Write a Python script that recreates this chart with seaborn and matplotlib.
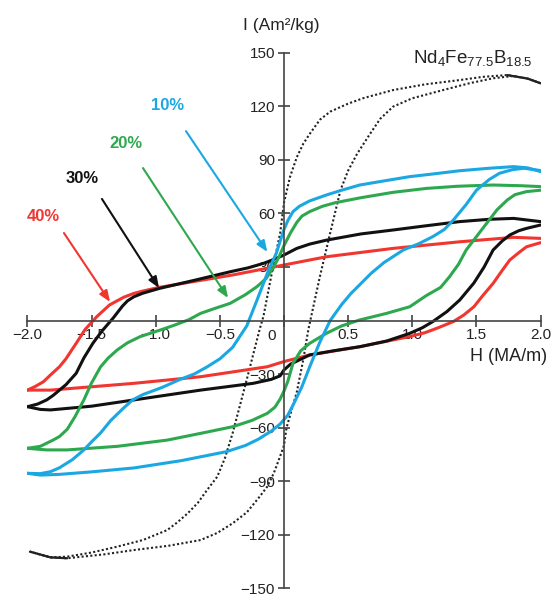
import matplotlib
matplotlib.use("Agg")
import matplotlib.pyplot as plt
import pandas as pd
import seaborn as sns

# ---------------- data ----------------
labels = ["10%", "20%", "30%", "40%"]

# 10 %  (blue)
H10_down = [2.0, 1.9, 1.79, 1.6, 1.37, 1.15, 0.98, 0.78, 0.59, 0.45, 0.33, 0.2, 0.12, 0.07, 0.03, 0.0, -0.03, -0.06, -0.12, -0.21, -0.29, -0.4, -0.5, -0.6, -0.7, -0.81, -0.95, -1.1, -1.18, -1.25, -1.35, -1.43, -1.5, -1.56, -1.65, -1.75, -1.82, -1.9, -2.0]
I10_down = [83.4, 85.5, 86.2, 85.3, 83.9, 82.0, 80.6, 78.2, 75.9, 73.0, 70.3, 67.0, 64.0, 61.0, 56.0, 51.0, 44.5, 37.6, 28.3, 11.5, -3.0, -15.0, -21.5, -26.0, -30.0, -33.0, -37.5, -41.5, -44.5, -49.0, -56.0, -63.0, -68.0, -72.5, -78.0, -82.5, -84.7, -85.8, -85.6]
H10_up = [-2.0, -1.9, -1.75, -1.5, -1.17, -0.8, -0.45, -0.3, -0.2, -0.1, -0.03, 0.03, 0.08, 0.14, 0.2, 0.28, 0.36, 0.45, 0.52, 0.59, 0.68, 0.78, 0.93, 1.05, 1.16, 1.25, 1.32, 1.42, 1.5, 1.6, 1.68, 1.78, 1.87, 2.0]
I10_up = [-85.6, -86.6, -86.2, -84.8, -82.6, -78.5, -73.5, -70.0, -66.5, -62.0, -58.0, -53.0, -46.0, -37.0, -26.0, -12.0, 0.0, 9.0, 15.0, 20.0, 26.5, 32.5, 39.5, 43.0, 47.0, 51.0, 56.3, 65.0, 73.0, 79.0, 82.5, 84.5, 85.3, 84.0]

# 20 %  (green)
H20_down = [2.0, 1.85, 1.63, 1.35, 1.11, 0.85, 0.6, 0.4, 0.3, 0.2, 0.14, 0.1, 0.05, 0.0, -0.04, -0.08, -0.14, -0.21, -0.3, -0.42, -0.55, -0.65, -0.74, -0.85, -0.95, -1.12, -1.22, -1.3, -1.37, -1.43, -1.5, -1.56, -1.63, -1.69, -1.75, -1.8, -1.9, -2.0]
I20_down = [75.0, 75.5, 75.9, 75.2, 74.0, 71.8, 68.8, 66.0, 64.0, 61.0, 58.5, 55.0, 49.0, 42.0, 35.5, 30.0, 23.5, 19.0, 14.5, 9.6, 6.5, 4.0, 0.5, -2.5, -5.0, -9.0, -12.5, -16.5, -21.0, -26.0, -35.0, -44.5, -54.0, -61.0, -65.0, -67.0, -70.5, -71.6]
H20_up = [-2.0, -1.85, -1.69, -1.3, -0.91, -0.6, -0.4, -0.25, -0.13, -0.07, -0.03, 0.0, 0.03, 0.07, 0.13, 0.2, 0.33, 0.45, 0.59, 0.8, 0.98, 1.11, 1.22, 1.29, 1.36, 1.42, 1.5, 1.58, 1.66, 1.74, 1.8, 1.89, 2.0]
I20_up = [-71.6, -72.5, -72.5, -70.5, -67.0, -62.5, -59.5, -56.0, -52.0, -48.5, -44.0, -39.5, -34.0, -24.0, -17.0, -12.8, -7.2, -3.0, 0.3, 4.0, 7.7, 14.0, 18.5, 24.5, 31.5, 39.5, 47.0, 54.5, 62.0, 67.5, 70.5, 72.2, 73.0]

# 30 %  (black)
H30_down = [2.0, 1.79, 1.6, 1.37, 1.1, 0.85, 0.6, 0.33, 0.2, 0.1, 0.0, -0.08, -0.16, -0.28, -0.42, -0.7, -0.97, -1.1, -1.17, -1.22, -1.26, -1.33, -1.42, -1.49, -1.56, -1.62, -1.7, -1.75, -1.8, -1.85, -1.92, -2.0]
I30_down = [55.4, 57.2, 56.7, 55.4, 53.0, 50.7, 48.5, 45.0, 42.8, 40.4, 36.7, 34.2, 32.0, 29.5, 27.3, 22.5, 18.0, 15.3, 13.3, 11.0, 8.0, 1.5, -6.0, -12.8, -21.0, -29.6, -36.0, -39.0, -42.0, -44.5, -46.8, -48.3]
H30_up = [-2.0, -1.9, -1.82, -1.5, -1.17, -0.65, -0.24, -0.1, -0.03, 0.0, 0.05, 0.2, 0.4, 0.59, 0.8, 0.98, 1.08, 1.16, 1.27, 1.37, 1.48, 1.56, 1.63, 1.7, 1.76, 1.83, 1.89, 2.0]
I30_up = [-48.3, -49.8, -50.1, -48.0, -44.5, -39.0, -35.2, -33.0, -31.0, -27.7, -24.5, -19.3, -16.8, -14.7, -11.5, -7.2, -4.0, -0.6, 5.0, 11.5, 21.0, 30.0, 39.5, 44.5, 47.9, 50.3, 51.6, 53.5]

# 40 %  (red)
H40_down = [2.0, 1.79, 1.37, 0.85, 0.33, 0.0, -0.4, -0.97, -1.1, -1.17, -1.25, -1.36, -1.46, -1.55, -1.62, -1.7, -1.75, -1.82, -1.875, -1.94, -2.0]
I40_down = [46.0, 46.6, 44.1, 40.4, 35.7, 31.1, 25.5, 18.6, 16.5, 15.2, 13.0, 8.7, 2.1, -5.0, -12.8, -21.5, -25.9, -30.5, -34.3, -37.0, -39.0]
H40_up = [-2.0, -1.82, -1.17, -0.65, -0.13, 0.0, 0.2, 0.59, 0.98, 1.1, 1.19, 1.32, 1.4, 1.48, 1.55, 1.63, 1.7, 1.76, 1.83, 1.89, 2.0]
I40_up = [-39.0, -39.0, -35.2, -31.5, -25.9, -23.0, -19.3, -14.7, -9.0, -6.8, -4.4, -0.6, 3.0, 7.7, 14.0, 20.8, 28.0, 33.9, 38.0, 41.3, 43.6]

# Nd4Fe77.5B18.5 reference alloy (dotted)
Hnd_down = [2.0, 1.9, 1.74, 1.55, 1.37, 1.1, 0.85, 0.62, 0.5, 0.36, 0.28, 0.2, 0.15, 0.1, 0.047, 0.0, -0.03, -0.1, -0.16, -0.19, -0.29, -0.4, -0.46, -0.52, -0.6, -0.67, -0.75, -0.83, -0.91, -1.1, -1.3, -1.5, -1.69, -1.82, -1.98]
Ind_down = [132.9, 135.5, 137.5, 136.5, 134.7, 132.3, 129.1, 124.6, 121.5, 117.0, 112.5, 104.5, 99.0, 91.5, 80.5, 66.0, 49.0, 24.7, 2.4, -5.0, -33.0, -63.0, -77.0, -87.5, -95.0, -102.0, -108.0, -113.0, -117.4, -123.0, -126.7, -130.0, -132.3, -132.7, -129.5]
Hnd_up = [-1.98, -1.82, -1.69, -1.4, -1.17, -0.9, -0.65, -0.52, -0.4, -0.29, -0.19, -0.13, -0.08, -0.04, 0.0, 0.02, 0.06, 0.1, 0.15, 0.19, 0.28, 0.36, 0.44, 0.5, 0.57, 0.67, 0.75, 0.85, 1.0, 1.24, 1.45, 1.63, 1.79, 1.9, 2.0]
Ind_up = [-129.5, -132.7, -133.2, -131.0, -128.6, -126.2, -123.0, -119.0, -113.6, -107.5, -98.7, -93.0, -85.6, -78.0, -70.0, -60.0, -50.0, -40.0, -22.0, -5.0, 24.7, 49.0, 73.0, 84.0, 93.4, 104.5, 113.0, 119.8, 124.5, 129.1, 133.0, 135.7, 137.0, 135.5, 132.9]

xticks = [-2.0, -1.5, -1.0, -0.5, 0.0, 0.5, 1.0, 1.5, 2.0]
xticklabels = ["\u22122.0", "\u22121.5", "\u22121.0", "\u22120.5", "", "0.5", "1.0", "1.5", "2.0"]
yticks = [-150, -120, -90, -60, -30, 30, 60, 90, 120, 150]
yticklabels = ["\u2212150", "\u2212120", "\u221290", "\u221260", "\u221230", "30", "60", "90", "120", "150"]

# ---------------- build table ----------------
branches = {
    "40%": [(H40_down, I40_down), (H40_up, I40_up)],
    "30%": [(H30_down, I30_down), (H30_up, I30_up)],
    "20%": [(H20_down, I20_down), (H20_up, I20_up)],
    "10%": [(H10_down, I10_down), (H10_up, I10_up)],
}
rows = []
for lab, brs in branches.items():
    for k, (hh, ii) in enumerate(brs):
        for h, i in zip(hh, ii):
            rows.append({"H": h, "I": i, "curve": lab, "unit": f"{lab}-{k}"})
df = pd.DataFrame(rows)

nd_rows = []
for k, (hh, ii) in enumerate([(Hnd_down, Ind_down), (Hnd_up, Ind_up)]):
    for h, i in zip(hh, ii):
        nd_rows.append({"H": h, "I": i, "unit": k})
dnd = pd.DataFrame(nd_rows)

# ---------------- style ----------------
sns.set_theme(style="ticks")
plt.rcParams["font.family"] = ["Liberation Sans", "DejaVu Sans"]
plt.rcParams["mathtext.default"] = "regular"

palette = {"10%": "#1ba8e2", "20%": "#2ea84e", "30%": "#111111", "40%": "#f0362f"}

fig = plt.figure(figsize=(5.53, 5.96), dpi=100)
ax = fig.add_axes([27.4 / 553, 1 - 588.25 / 596, 513.2 / 553, 535.5 / 596])

# dotted reference alloy
sns.lineplot(data=dnd, x="H", y="I", units="unit", estimator=None, sort=False,
             color="#222222", linewidth=1.5, linestyle=(0, (1, 1.1)), ax=ax, legend=False)
# solid overlapping ends
sns.lineplot(data=dnd[(dnd.H >= 1.74) & (dnd.unit == 0)], x="H", y="I", sort=False,
             estimator=None, color="#222222", linewidth=1.6, ax=ax, legend=False)
sns.lineplot(data=dnd[(dnd.H <= -1.69) & (dnd.unit == 1)], x="H", y="I", sort=False,
             estimator=None, color="#222222", linewidth=1.6, ax=ax, legend=False)

sns.lineplot(data=df, x="H", y="I", hue="curve", units="unit", estimator=None, sort=False,
             palette=palette, linewidth=2.2, ax=ax, legend=False)
for ln in ax.lines:
    ln.set_solid_joinstyle("round")
    ln.set_solid_capstyle("round")

ax.set_xlim(-2.0, 2.0)
ax.set_ylim(-150, 150)
ax.set_xlabel("")
ax.set_ylabel("")

for s in ["top", "right"]:
    ax.spines[s].set_visible(False)
ax.spines["left"].set_position(("data", 0))
ax.spines["bottom"].set_position(("data", 0))
for s in ["left", "bottom"]:
    ax.spines[s].set_color("#444444")
    ax.spines[s].set_linewidth(1.2)

ax.set_xticks(xticks)
ax.set_xticklabels(xticklabels)
ax.set_yticks(yticks)
ax.set_yticklabels(yticklabels)
ax.tick_params(axis="both", direction="inout", length=9, width=1.2, color="#444444",
               labelsize=11, labelcolor="#222222")
ax.tick_params(axis="x", pad=1)
ax.tick_params(axis="y", pad=2)

# origin label
ax.text(-0.10, -8.5, "0", ha="center", va="center", fontsize=11, color="#222222")

# axis titles
ax.text(-0.02, 165.5, "I (Am\u00b2/kg)", ha="center", va="center", fontsize=12.5,
        color="#222222", clip_on=False)
ax.text(1.75, -20.0, "H (MA/m)", ha="center", va="center", fontsize=13, color="#222222")
ax.text(1.94, 147.0, r"Nd$_4$Fe$_{77.5}$B$_{18.5}$", ha="right", va="center",
        fontsize=13.5, color="#222222")

# percentage annotations
ann = {
    "10%": ((-0.908, 120.2), (-0.764, 106.1), (-0.13, 38.4)),
    "20%": ((-1.235, 99.4), (-1.099, 85.4), (-0.436, 12.6)),
    "30%": ((-1.574, 79.3), (-1.419, 68.1), (-0.974, 18.2)),
    "40%": ((-1.874, 58.0), (-1.715, 49.0), (-1.356, 10.4)),
}
for lab, (tpos, start, end) in ann.items():
    c = palette[lab]
    ax.annotate("", xy=end, xytext=start,
                arrowprops=dict(arrowstyle="-|>,head_length=0.55,head_width=0.22",
                                color=c, lw=1.5, shrinkA=0, shrinkB=0))
    ax.text(tpos[0], tpos[1], lab, color=c, fontsize=12, fontweight="bold",
            ha="center", va="center")

fig.savefig("out.png", dpi=100)
